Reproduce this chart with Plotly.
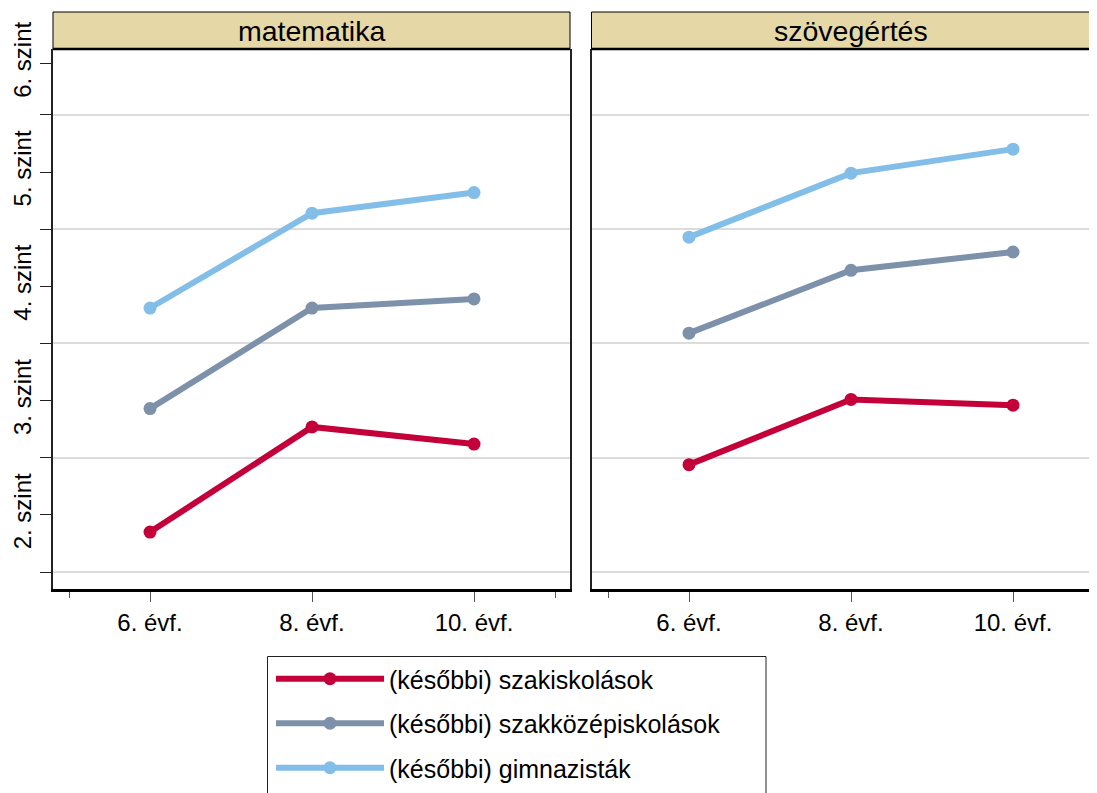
import plotly.graph_objects as go

# ---- data ----
grades = [6, 8, 10]
grade_labels = ["6. évf.", "8. évf.", "10. évf."]
subjects = ["matematika", "szövegértés"]
groups = ["(későbbi) szakiskolások", "(későbbi) szakközépiskolások", "(későbbi) gimnazisták"]

math_szakiskola = [1.85, 2.77, 2.62]
math_szakkozep = [2.93, 3.81, 3.89]
math_gimnazium = [3.81, 4.64, 4.82]

read_szakiskola = [2.44, 3.01, 2.96]
read_szakkozep = [3.59, 4.14, 4.30]
read_gimnazium = [4.43, 4.99, 5.20]

level_labels = ["2. szint", "3. szint", "4. szint", "5. szint", "6. szint"]
level_pos = [2, 3, 4, 5, 5.95]
level_bounds = [1.5, 2.5, 3.5, 4.5, 5.5]

colors = ["#C3003A", "#7D91AA", "#82BEE8"]

# ---- layout helpers (page body has an 8px margin) ----
OFF = 8
W, H = 1097 - OFF, 793 - OFF
def px_x(p):
    return (p - OFF) / W
def px_y(p):
    return 1 - (p - OFF) / H

FONT = "Liberation Sans, Arial, sans-serif"

fig = go.Figure()

panels = [
    ("x", "y", [math_szakiskola, math_szakkozep, math_gimnazium], True),
    ("x2", "y2", [read_szakiskola, read_szakkozep, read_gimnazium], False),
]
for xa, ya, series, show in panels:
    for name, vals, col in zip(groups, series, colors):
        fig.add_trace(go.Scatter(
            x=grades, y=vals, name=name, xaxis=xa, yaxis=ya,
            mode="lines+markers",
            line=dict(color=col, width=6),
            marker=dict(color=col, size=13),
            showlegend=show, legendgroup=name,
        ))

yrange = [1.352, 6.076]
ydom = [px_y(589), px_y(49)]

common_x = dict(
    tickmode="array", tickvals=grades, ticktext=grade_labels,
    ticks="outside", ticklen=10, tickwidth=1, tickcolor="#555555",
    showline=True, linecolor="black", linewidth=2.5,
    showgrid=False, zeroline=False, automargin=False,
    tickfont=dict(family=FONT, size=24, color="black"),
    minor=dict(tickmode="array", tickvals=[5, 11], ticks="outside",
               ticklen=6, tickwidth=1, tickcolor="#555555", showgrid=False),
)
fig.update_layout(
    xaxis=dict(domain=[px_x(53), px_x(570)], range=[4.802, 11.185], anchor="y", **common_x),
    xaxis2=dict(domain=[px_x(591.5), 1.0], range=[4.796, 11.037], anchor="y2", **common_x),
    yaxis=dict(
        domain=ydom, range=yrange, anchor="x", automargin=False,
        tickmode="array", tickvals=level_pos, ticktext=level_labels,
        tickangle=-90, ticks="outside", ticklen=11, tickwidth=1, tickcolor="#222222",
        tickfont=dict(family=FONT, size=24, color="black"),
        showline=True, linecolor="#222222", linewidth=1.5, mirror=True,
        showgrid=False, zeroline=False,
        minor=dict(tickmode="array", tickvals=level_bounds, ticks="outside",
                   ticklen=11, tickwidth=1, tickcolor="#222222",
                   showgrid=True, gridcolor="#DCDCDC", gridwidth=1.5),
    ),
    yaxis2=dict(
        domain=ydom, range=yrange, anchor="x2", automargin=False,
        tickmode="array", tickvals=level_pos, showticklabels=False, ticks="",
        showline=True, linecolor="#222222", linewidth=1.5,
        showgrid=False, zeroline=False,
        minor=dict(tickmode="array", tickvals=level_bounds, ticks="",
                   showgrid=True, gridcolor="#DCDCDC", gridwidth=1.5),
    ),
)

# ---- panel header strips ----
headers = [(53, 570), (591.5, 1112)]
for (x0, x1), title in zip(headers, subjects):
    fig.add_shape(type="rect", xref="paper", yref="paper",
                  x0=px_x(x0), x1=px_x(x1), y0=px_y(49), y1=px_y(12),
                  fillcolor="#E5D8A6", line=dict(color="black", width=1), layer="above")
    fig.add_shape(type="line", xref="paper", yref="paper",
                  x0=px_x(x0), x1=px_x(x1), y0=px_y(49), y1=px_y(49),
                  line=dict(color="black", width=2.5), layer="above")
    cx = (x0 + min(x1, 1110)) / 2
    fig.add_annotation(x=px_x(cx), y=px_y(31), xref="paper", yref="paper",
                       text=title, showarrow=False, xanchor="center", yanchor="middle",
                       font=dict(family=FONT, size=28.5, color="black"))

# ---- legend frame (wider than plotly's own box) ----
fig.add_shape(type="rect", xref="paper", yref="paper",
              x0=px_x(267.5), x1=px_x(766), y0=px_y(800), y1=px_y(656.5),
              fillcolor="white", line=dict(color="#222222", width=1), layer="below")

fig.update_layout(
    width=W, height=H,
    margin=dict(l=0, r=0, t=0, b=0, autoexpand=False),
    paper_bgcolor="white", plot_bgcolor="white",
    showlegend=True,
    legend=dict(
        x=px_x(271), y=px_y(656), xanchor="left", yanchor="top",
        bgcolor="rgba(0,0,0,0)", borderwidth=0,
        font=dict(family=FONT, size=25, color="black"),
        itemwidth=108, tracegroupgap=9, traceorder="grouped",
    ),
)

fig.write_html("out.html")
